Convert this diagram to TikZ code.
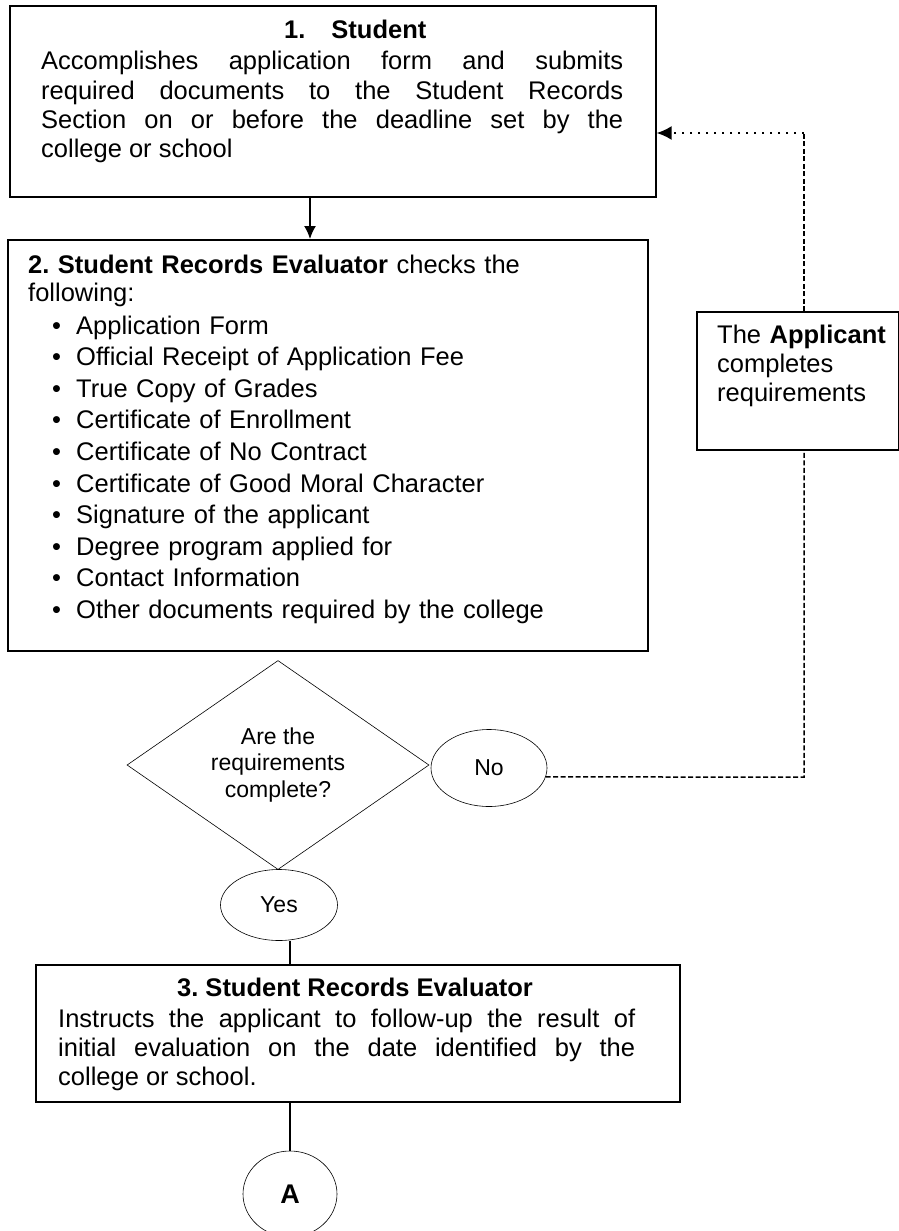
\documentclass[tikz,border=0pt]{standalone}
\usepackage{fontspec}
\setmainfont{Liberation Sans}
\usetikzlibrary{shapes.geometric,arrows.meta}
\tolerance=10000
\hbadness=10000
\frenchspacing
\newcommand\fsmain{\fontsize{25.5}{29.3}\selectfont}
\newcommand\fsdia{\fontsize{23}{26.5}\selectfont}
\newcommand\blt{\hspace*{24pt}\makebox[24pt][l]{\textbullet}}
\newcommand\wide{\spaceskip=0.278em plus 3em minus 0.05em\relax}
\begin{document}
\frenchspacing
\begin{tikzpicture}[x=1pt,y=-1pt,
  boxn/.style={draw, line width=1.6pt, inner sep=0pt, anchor=north west},
  txt/.style={inner sep=0pt, font=\fsmain},
  diam/.style={draw, shape=diamond, line width=0.6pt, inner sep=0pt,
    minimum width=302pt, minimum height=209pt, aspect=1.45, align=center, font=\fsdia},
  ell/.style={draw, ellipse, line width=0.6pt, inner sep=0pt, font=\fsdia},
  conn/.style={line width=1.6pt},
  dashline/.style={line width=1.5pt, dash pattern=on 5pt off 2.5pt},
  dotline/.style={line width=2pt, dash pattern=on 2pt off 6pt}]
\fill[white] (0,0) rectangle (898,1231);
\useasboundingbox (0,0) rectangle (898,1231);

% Box 1
\node[boxn, minimum width=646pt, minimum height=191pt] (b1) at (9,5) {};
\node[txt, anchor=base west] (t1h) at (284,39) {\bfseries 1.\hspace{26pt}Student};
\node[txt, anchor=base west, text width=582pt, align=justify] (t1) at (41,70)
  {\wide Accomplishes application form and submits\linebreak required documents to the Student Records\linebreak Section on or before the deadline set by the\linebreak college or school};

% Box 2
\node[boxn, minimum width=640pt, minimum height=411pt] (b2) at (7,239) {};
\node[txt, anchor=base west, text width=610pt, align=left] (t2) at (28,273)
  {\textbf{2. Student Records Evaluator} checks the\\[-1.3pt]
   following:\\[3.7pt]
   \blt Application Form\\[2.3pt]
   \blt Official Receipt of Application Fee\\[2.3pt]
   \blt True Copy of Grades\\[2.3pt]
   \blt Certificate of Enrollment\\[2.3pt]
   \blt Certificate of No Contract\\[2.3pt]
   \blt Certificate of Good Moral Character\\[2.3pt]
   \blt Signature of the applicant\\[2.3pt]
   \blt Degree program applied for\\[2.3pt]
   \blt Contact Information\\[2.3pt]
   \blt Other documents required by the college};

% Applicant box
\node[boxn, minimum width=202pt, minimum height=138pt] (app) at (696,311) {};
\node[txt, anchor=base west, text width=180pt, align=left] (tapp) at (717,343)
  {The \textbf{Applicant}\\completes\\requirements};

% Decision
\node[diam] (dec) at (278,765) {Are the\\requirements\\complete?};
\node[ell, minimum width=116pt, minimum height=77pt] (no) at (489,768) {No};
\node[ell, minimum width=117pt, minimum height=71pt] (yes) at (279,905) {Yes};

% Box 3
\node[boxn, minimum width=644pt, minimum height=137pt] (b3) at (35,964) {};
\node[txt, anchor=base] (t3h) at (355,996) {\bfseries 3. Student Records Evaluator};
\node[txt, anchor=base west, text width=577pt, align=justify] (t3) at (58,1027)
  {\wide Instructs the applicant to follow-up the result of\linebreak initial evaluation on the date identified by the\linebreak college or school.};

% Connector A
\node[ell, minimum width=94pt, minimum height=86pt, font=\fontsize{27}{30}\selectfont\bfseries] (A) at (290,1194) {A};

% Coordinates
\coordinate (cx1) at (310,0);
\coordinate (cx2) at (290,0);
\coordinate (tr) at (804,133);
\coordinate (br) at (804,777);

% Connectors
\draw[conn, -{Latex[length=13pt,width=12pt]}] (b1.south -| cx1) -- (b2.north -| cx1);
\draw[conn] (yes.south -| cx2) -- (b3.north -| cx2);
\draw[conn] (b3.south -| cx2) -- (A.north);
\draw[dashline] (no.-9) -- (br) -- (app.south -| br);
\draw[dashline] (app.north -| br) -- (tr);
\draw[dotline, -{Latex[length=15pt,width=14pt]}] (tr) -- (b1.east |- tr);
\end{tikzpicture}
\end{document}
